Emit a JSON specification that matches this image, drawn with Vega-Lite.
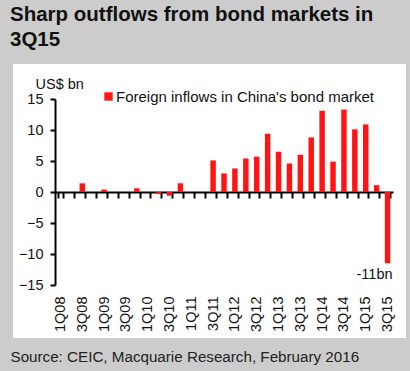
{
  "$schema": "https://vega.github.io/schema/vega-lite/v6.json",
  "width": 393,
  "height": 274,
  "autosize": "none",
  "padding": {"left": 13, "top": 64, "right": 4, "bottom": 33},
  "background": "#cccccc",
  "config": {
    "view": {"stroke": null, "fill": "white"},
    "font": "Liberation Sans"
  },
  "title": {
    "text": ["Sharp outflows from bond markets in", "3Q15"],
    "anchor": "start",
    "frame": "group",
    "dx": -3,
    "offset": 14,
    "fontSize": 20.5,
    "fontWeight": "bold",
    "color": "#111111",
    "lineHeight": 25
  },
  "data": {
    "values": [
      {"quarter": "1Q08", "value": 0},
      {"quarter": "2Q08", "value": 0},
      {"quarter": "3Q08", "value": 1.4},
      {"quarter": "4Q08", "value": 0},
      {"quarter": "1Q09", "value": 0.4},
      {"quarter": "2Q09", "value": 0},
      {"quarter": "3Q09", "value": 0},
      {"quarter": "4Q09", "value": 0.6},
      {"quarter": "1Q10", "value": 0},
      {"quarter": "2Q10", "value": -0.3},
      {"quarter": "3Q10", "value": -0.6},
      {"quarter": "4Q10", "value": 1.4},
      {"quarter": "1Q11", "value": 0},
      {"quarter": "2Q11", "value": 0},
      {"quarter": "3Q11", "value": 5.1},
      {"quarter": "4Q11", "value": 3.0},
      {"quarter": "1Q12", "value": 3.8},
      {"quarter": "2Q12", "value": 5.4},
      {"quarter": "3Q12", "value": 5.7},
      {"quarter": "4Q12", "value": 9.4},
      {"quarter": "1Q13", "value": 6.5},
      {"quarter": "2Q13", "value": 4.6},
      {"quarter": "3Q13", "value": 6.0},
      {"quarter": "4Q13", "value": 8.8},
      {"quarter": "1Q14", "value": 13.1},
      {"quarter": "2Q14", "value": 4.9},
      {"quarter": "3Q14", "value": 13.3},
      {"quarter": "4Q14", "value": 10.1},
      {"quarter": "1Q15", "value": 10.9},
      {"quarter": "2Q15", "value": 1.1},
      {"quarter": "3Q15", "value": -11.5, "note": "-11bn"}
    ]
  },
  "encoding": {
    "x": {
      "field": "quarter",
      "type": "ordinal",
      "sort": null,
      "scale": {"range": [42, 380], "paddingInner": 0.5, "paddingOuter": 0.25},
      "axis": {
        "orient": "bottom",
        "offset": -146,
        "grid": false,
        "domainWidth": 2,
        "domainColor": "black",
        "tickBand": "extent",
        "tickSize": 6,
        "tickWidth": 2,
        "tickColor": "black",
        "labelAngle": -90,
        "labelPadding": 98,
        "labelFontSize": 14.5,
        "labelColor": "#111111",
        "labelOverlap": false,
        "labelExpr": "(substring(datum.value,0,1) == '1' || substring(datum.value,0,1) == '3') ? datum.label : ''",
        "title": "Source: CEIC, Macquarie Research, February 2016",
        "titleX": -3,
        "titleY": 164,
        "titleAlign": "left",
        "titleAnchor": "start",
        "titleBaseline": "middle",
        "titleFontWeight": "normal",
        "titleFontSize": 15.2,
        "titleColor": "#222222"
      }
    },
    "y": {
      "field": "value",
      "type": "quantitative",
      "scale": {"domain": [-15, 15], "range": [221, 35], "nice": false},
      "axis": {
        "offset": -42,
        "values": [-15, -10, -5, 0, 5, 10, 15],
        "grid": false,
        "domainWidth": 2,
        "domainColor": "black",
        "tickSize": 5,
        "tickWidth": 2,
        "tickColor": "black",
        "labelFontSize": 14.5,
        "labelColor": "#111111",
        "labelPadding": 7,
        "title": "US$ bn",
        "titleAngle": 0,
        "titleX": -20,
        "titleY": 20,
        "titleAlign": "left",
        "titleBaseline": "middle",
        "titleFontWeight": "normal",
        "titleFontSize": 14.5,
        "titleColor": "#111111"
      }
    }
  },
  "layer": [
    {
      "mark": {"type": "bar"},
      "encoding": {
        "color": {
          "datum": "Foreign inflows in China's bond market",
          "type": "nominal",
          "scale": {"range": ["#ff1414"]},
          "legend": {
            "title": null,
            "orient": "none",
            "legendX": 88,
            "legendY": 25,
            "padding": 0,
            "symbolType": "square",
            "symbolSize": 70,
            "symbolStrokeWidth": 0,
            "symbolOpacity": 1,
            "labelFontSize": 15,
            "labelColor": "#111111",
            "labelOffset": 0,
            "labelLimit": 400
          }
        }
      }
    },
    {
      "transform": [{"filter": "datum.note"}],
      "mark": {"type": "text", "align": "right", "baseline": "middle", "dx": 5, "dy": 12, "fontSize": 14.5, "color": "#111111"},
      "encoding": {"text": {"field": "note"}}
    }
  ]
}
